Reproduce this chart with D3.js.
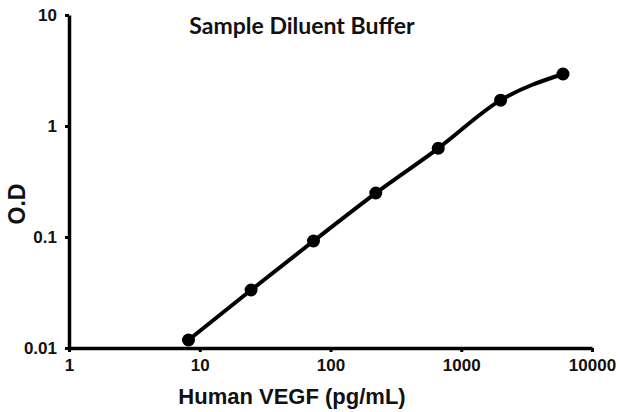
<!DOCTYPE html>
<html>
<head>
<meta charset="utf-8">
<script src="https://cdn.jsdelivr.net/npm/d3@7"></script>
<style>
  body { margin: 0; background: #fff; }
  text { font-family: Arial, "Liberation Sans", sans-serif; font-weight: bold; fill: #111; }
  .title { font-family: Lato, "Open Sans", sans-serif; }
</style>
</head>
<body>
<div id="chart"></div>
<script>
// Standard curve: concentration (pg/mL) vs optical density
const concentrations = [8.2, 24.7, 74.1, 222, 667, 2000, 6000];
const odValues = [0.0118, 0.0333, 0.092, 0.249, 0.63, 1.71, 2.94];
const xTicks = [1, 10, 100, 1000, 10000];
const yTicks = [0.01, 0.1, 1, 10];

const width = 619, height = 412;
const margin = { top: 15, right: 27, bottom: 64, left: 69 };

const svg = d3.select("#chart").append("svg")
    .attr("width", width)
    .attr("height", height);

const x = d3.scaleLog()
    .domain([1, 10000])
    .range([margin.left, width - margin.right]);

const y = d3.scaleLog()
    .domain([0.01, 10])
    .range([height - margin.bottom, margin.top]);

// axes
const xAxis = svg.append("g")
    .attr("transform", `translate(0,${height - margin.bottom})`)
    .call(d3.axisBottom(x).tickValues(xTicks).tickFormat(d3.format("d")).tickSize(4).tickSizeOuter(0));

const yAxis = svg.append("g")
    .attr("transform", `translate(${margin.left},0)`)
    .call(d3.axisLeft(y).tickValues(yTicks).tickFormat(d => String(d)).tickSize(4).tickSizeOuter(0));

[xAxis, yAxis].forEach(g => {
    g.select(".domain").attr("stroke", "#000").attr("stroke-width", 3.5);
    g.selectAll(".tick line").attr("stroke", "#000").attr("stroke-width", 3);
    g.selectAll(".tick text").style("font-size", "17px").attr("fill", "#111");
});
xAxis.selectAll(".tick text").attr("dy", "0.95em");
yAxis.selectAll(".tick text").attr("x", -12);

// curve
const line = d3.line()
    .x((d, i) => x(concentrations[i]))
    .y(d => y(d))
    .curve(d3.curveMonotoneX);

svg.append("path")
    .datum(odValues)
    .attr("fill", "none")
    .attr("stroke", "#000")
    .attr("stroke-width", 4)
    .attr("d", line);

svg.selectAll("circle")
    .data(odValues)
    .enter().append("circle")
    .attr("cx", (d, i) => x(concentrations[i]))
    .attr("cy", d => y(d))
    .attr("r", 6.5)
    .attr("fill", "#000");

// labels
svg.append("text")
    .attr("class", "title")
    .attr("x", 302)
    .attr("y", 34)
    .attr("text-anchor", "middle")
    .style("font-size", "23px")
    .text("Sample Diluent Buffer");

svg.append("text")
    .attr("x", 292)
    .attr("y", 404)
    .attr("text-anchor", "middle")
    .style("font-size", "22px")
    .text("Human VEGF (pg/mL)");

svg.append("text")
    .attr("transform", "translate(25,204) rotate(-90)")
    .attr("text-anchor", "middle")
    .style("font-size", "23px")
    .text("O.D");
</script>
</body>
</html>
